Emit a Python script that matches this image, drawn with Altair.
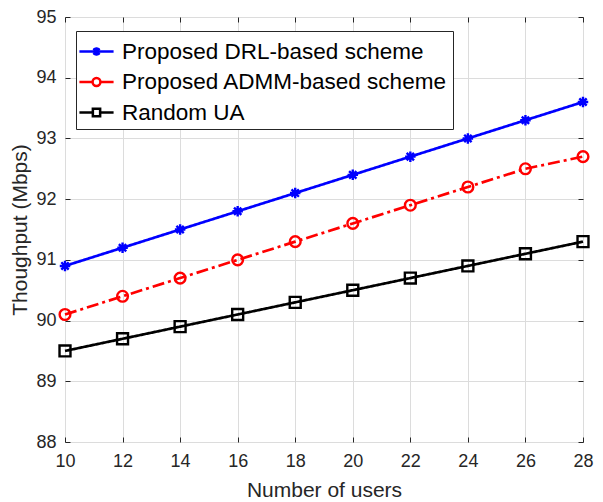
import altair as alt
import pandas as pd

users = [10, 12, 14, 16, 18, 20, 22, 24, 26, 28]
drl = [90.9, 91.2, 91.5, 91.8, 92.1, 92.4, 92.7, 93.0, 93.3, 93.6]
admm = [90.1, 90.4, 90.7, 91.0, 91.3, 91.6, 91.9, 92.2, 92.5, 92.7]
rand_ua = [89.5, 89.7, 89.9, 90.1, 90.3, 90.5, 90.7, 90.9, 91.1, 91.3]

names = ["Proposed DRL-based scheme", "Proposed ADMM-based scheme", "Random UA"]
colors = ["#0000ff", "#ff0000", "#000000"]
dashes = [[1, 0], [12, 4, 3, 4], [1, 0]]

rows = []
for name, vals in zip(names, [drl, admm, rand_ua]):
    for u, v in zip(users, vals):
        rows.append({"users": u, "thr": v, "series": name, "label": name})
df = pd.DataFrame(rows)

FONT = "Liberation Sans"
TXT = "#262626"

xs = alt.Scale(domain=[10, 28], nice=False)
ys = alt.Scale(domain=[88, 95], nice=False)

main_x = alt.Axis(values=list(range(10, 29, 2)), title="Number of users", grid=True,
                  gridColor="#dcdcdc", ticks=False, domain=False, labelFontSize=18,
                  labelColor=TXT, labelFont=FONT, titleFont=FONT, titleFontSize=21,
                  titleFontWeight="normal", titleColor=TXT, labelPadding=10, titlePadding=9,
                  labelFlush=False)
main_y = alt.Axis(values=list(range(88, 96)), title="Thoughput (Mbps)", grid=True,
                  gridColor="#dcdcdc", ticks=False, domain=False, labelFontSize=18,
                  labelColor=TXT, labelFont=FONT, titleFont=FONT, titleFontSize=21,
                  titleFontWeight="normal", titleColor=TXT, labelPadding=9, titlePadding=5,
                  labelFlush=False)


def tick_axis(orient, vals):
    return alt.Axis(orient=orient, values=vals, labels=False, title=None, grid=False,
                    domain=False, ticks=True, tickSize=5, offset=-5, tickColor=TXT,
                    tickWidth=1)


col_scale = alt.Scale(domain=names, range=colors)

lines = alt.Chart(df).mark_line(strokeWidth=2.7).encode(
    x=alt.X("users:Q", scale=xs, axis=main_x),
    y=alt.Y("thr:Q", scale=ys, axis=main_y),
    color=alt.Color("series:N", scale=col_scale, legend=None),
    strokeDash=alt.StrokeDash("series:N", scale=alt.Scale(domain=names, range=dashes), legend=None),
)

star = "M0,-1V1M-1,0H1M-0.7,-0.7L0.7,0.7M-0.7,0.7L0.7,-0.7"
points = alt.Chart(df).mark_point(filled=False, strokeWidth=2.4, opacity=1).encode(
    x=alt.X("users:Q", scale=xs, axis=tick_axis("bottom", list(range(10, 29, 2)))),
    y=alt.Y("thr:Q", scale=ys, axis=tick_axis("left", list(range(88, 96)))),
    color=alt.Color("series:N", scale=col_scale, legend=None),
    shape=alt.Shape("series:N", scale=alt.Scale(domain=names, range=[star, "circle", "square"]), legend=None),
    size=alt.Size("series:N", scale=alt.Scale(domain=names, range=[110, 120, 70]), legend=None),
)

# legend symbol paths (unit = 14px)
leg_paths = [
    "M-1.22,0H1.22M0,-0.31V0.31M-0.31,0H0.31M-0.22,-0.22L0.22,0.22M-0.22,0.22L0.22,-0.22",
    "M-1.22,0H-0.28M0.28,0H1.22M-0.28,0A0.28,0.28 0 1,0 0.28,0A0.28,0.28 0 1,0 -0.28,0",
    "M-1.22,0H-0.26M0.26,0H1.22M-0.26,-0.26H0.26V0.26H-0.26Z",
]

legend_layer = alt.Chart(df).mark_point(filled=False, opacity=0, strokeWidth=2.5).encode(
    x=alt.X("users:Q", scale=xs, axis=tick_axis("top", list(range(10, 29, 2)))),
    y=alt.Y("thr:Q", scale=ys, axis=tick_axis("right", list(range(88, 96)))),
    color=alt.Color("label:N", scale=alt.Scale(domain=names, range=colors),
                    legend=alt.Legend(title=None, orient="none", legendX=11, legendY=14,
                                      symbolSize=784, symbolOpacity=1, symbolStrokeWidth=2.5,
                                      symbolFillColor="transparent",
                                      labelFont=FONT, labelFontSize=22.5, labelColor="#000000",
                                      labelOffset=10, rowPadding=3.5, padding=5,
                                      strokeColor="#262626", fillColor="#ffffff",
                                      labelLimit=400)),
    shape=alt.Shape("label:N", scale=alt.Scale(domain=names, range=leg_paths)),
)

chart = alt.layer(lines, points, legend_layer).resolve_scale(
    color="independent", shape="independent"
).resolve_axis(
    x="independent", y="independent"
).properties(
    width=518, height=425,
    autosize=alt.AutoSizeParams(type="none"),
    padding={"left": 57, "top": 9, "right": 12, "bottom": 60},
).configure_view(stroke="#262626", strokeWidth=1).configure(background="#ffffff")

chart.save("out.html", embed_options={"renderer": "svg", "actions": False})
